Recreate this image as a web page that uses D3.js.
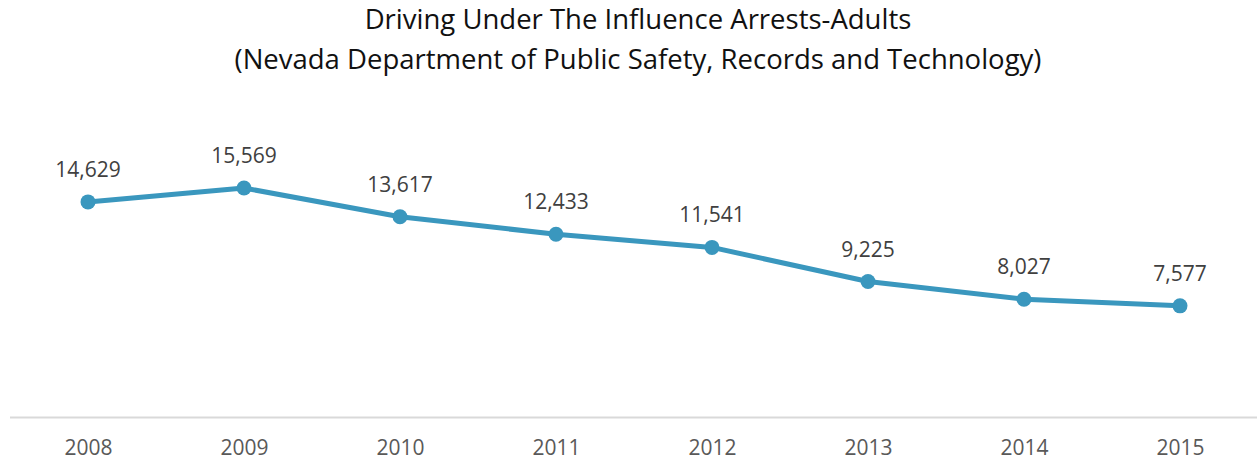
<!DOCTYPE html>
<html>
<head>
<meta charset="utf-8">
<script src="https://cdn.jsdelivr.net/npm/d3@7"></script>
<style>
  body { margin: 0; background: #fff; }
  text { font-family: "Open Sans", sans-serif; }
</style>
</head>
<body>
<div id="chart"></div>
<script>
  // DUI arrests, adults, Nevada
  const years = ["2008", "2009", "2010", "2011", "2012", "2013", "2014", "2015"];
  const arrests = [14629, 15569, 13617, 12433, 11541, 9225, 8027, 7577];
  const titleLines = [
    "Driving Under The Influence Arrests-Adults",
    "(Nevada Department of Public Safety, Records and Technology)"
  ];

  const width = 1257;
  const height = 463;

  const svg = d3.select('#chart')
    .append('svg')
      .attr('width', width)
      .attr('height', height);

  // Title
  svg.selectAll('.title')
    .data(titleLines)
    .join('text')
      .attr('class', 'title')
      .attr('x', 638)
      .attr('y', (d, i) => 29 + i * 40)
      .attr('text-anchor', 'middle')
      .attr('font-size', 27.5)
      .attr('fill', '#111')
      .text(d => d);

  // Scales
  const x = d3.scalePoint()
    .domain(years)
    .range([88, 1180]);

  const y = d3.scaleLinear()
    .domain([0, 18000])
    .range([417.5, 152.2]);

  // Category axis
  const xAxis = svg.append('g')
    .attr('transform', `translate(0, ${y(0)})`)
    .call(d3.axisBottom(x).tickSize(0).tickPadding(23));
  xAxis.select('.domain').remove();
  xAxis.append('line')
    .attr('x1', 10)
    .attr('x2', width)
    .attr('stroke', '#d9d9d9')
    .attr('stroke-width', 2);
  xAxis.selectAll('text')
    .attr('font-family', '"Open Sans", sans-serif')
    .attr('font-size', 21)
    .attr('fill', '#595959');

  // Line
  const line = d3.line()
    .x((d, i) => x(years[i]))
    .y(d => y(d));

  svg.append('path')
    .datum(arrests)
    .attr('d', line)
    .attr('fill', 'none')
    .attr('stroke', '#3a97be')
    .attr('stroke-width', 5)
    .attr('stroke-linejoin', 'round');

  // Markers
  svg.selectAll('.dot')
    .data(arrests)
    .join('circle')
      .attr('class', 'dot')
      .attr('cx', (d, i) => x(years[i]))
      .attr('cy', d => y(d))
      .attr('r', 7.5)
      .attr('fill', '#3a97be');

  // Value labels
  svg.selectAll('.label-value')
    .data(arrests)
    .join('text')
      .attr('class', 'label-value')
      .attr('x', (d, i) => x(years[i]))
      .attr('y', d => y(d) - 25)
      .attr('text-anchor', 'middle')
      .attr('font-size', 21)
      .attr('fill', '#404040')
      .text(d => d3.format(',')(d));
</script>
</body>
</html>
